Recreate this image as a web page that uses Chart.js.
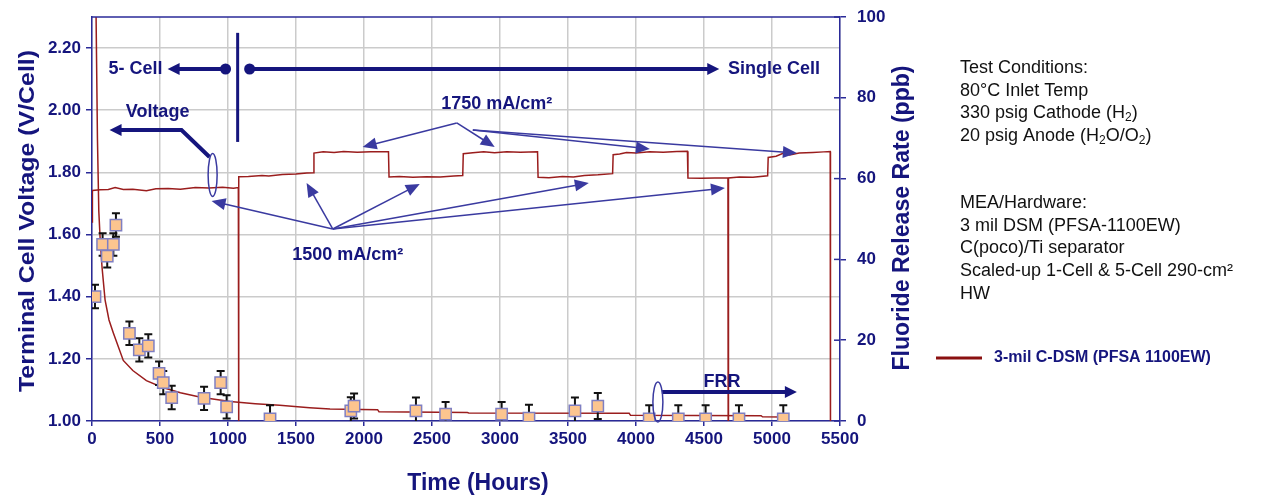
<!DOCTYPE html>
<html>
<head>
<meta charset="utf-8">
<script src="https://cdn.jsdelivr.net/npm/chart.js"></script>
<style>
  html, body { margin: 0; padding: 0; background: #fff; }
  #wrap { width: 1265px; height: 496px; position: relative; }
</style>
</head>
<body>
<div id="wrap"><canvas id="chart"></canvas></div>
<script>
// tick labels
var hourTicks = [0, 500, 1000, 1500, 2000, 2500, 3000, 3500, 4000, 4500, 5000, 5500];
var voltTicks = [1.0, 1.2, 1.4, 1.6, 1.8, 2.0, 2.2];
var ppbTicks = [0, 20, 40, 60, 80, 100];

// cell voltage trace (V/Cell), drops below axis at shutdowns
var voltHours = [0, 3, 60, 120, 170, 230, 300, 400, 470, 560, 650, 760, 860, 960, 1040, 1076, 1078, 1080,
  1150, 1250, 1300, 1400, 1500, 1580, 1628, 1632, 1700, 1780, 1850, 1950, 2050, 2180, 2184,
  2260, 2360, 2460, 2560, 2660, 2726, 2730, 2800, 2880, 2960, 3050, 3150, 3276, 3280,
  3360, 3460, 3540, 3620, 3720, 3828, 3832, 3880, 3930, 4000, 4100, 4200, 4300, 4378, 4382,
  4480, 4580, 4676, 4678, 4680, 4760, 4860, 4968, 4972, 5030, 5090, 5130, 5200, 5300, 5380, 5428, 5430];
var voltValues = [1.64, 1.742, 1.744, 1.745, 1.751, 1.745, 1.746, 1.741, 1.747, 1.748, 1.746, 1.751, 1.750, 1.752, 1.749, 1.751, 0.9, 1.786,
  1.787, 1.790, 1.788, 1.793, 1.795, 1.798, 1.799, 1.862, 1.866, 1.864, 1.867, 1.865, 1.866, 1.866, 1.785,
  1.787, 1.784, 1.786, 1.785, 1.788, 1.790, 1.860, 1.863, 1.866, 1.863, 1.866, 1.865, 1.866, 1.784,
  1.783, 1.787, 1.785, 1.790, 1.792, 1.796, 1.857, 1.859, 1.864, 1.862, 1.866, 1.865, 1.867, 1.868, 1.782,
  1.781, 1.782, 1.782, 0.9, 1.782, 1.785, 1.784, 1.789, 1.848, 1.852, 1.863, 1.856, 1.862, 1.864, 1.866, 1.867, 0.9];

// fluoride release trend line (ppb)
var fitHours = [20, 30, 40, 50, 60, 74, 96, 125, 157, 230, 300, 400, 520, 650, 800, 1015, 1200, 1380, 1600, 1750,
  2100, 2110, 2760, 2770, 3950, 3960, 4920, 4930, 5080];
var fitPpb = [130, 100, 70, 52, 45, 38, 30, 25, 21.8, 15, 12.5, 10, 8.3, 7, 5.9, 4.8, 4.3, 3.9, 3.3, 3.0,
  2.8, 2.3, 2.1, 2.0, 1.9, 1.4, 1.3, 1.05, 1.0];

// measured FRR points (ppb) and error bar half-heights
var frrHours = [22, 78, 112, 157, 176, 275, 348, 414, 493, 524, 586, 824, 946, 990, 1309,
  1903, 1927, 2382, 2600, 3012, 3213, 3551, 3719, 4097, 4311, 4512, 4757, 5083];
var frrPpb = [30.8, 43.7, 40.8, 43.7, 48.5, 21.7, 17.6, 18.6, 11.8, 9.5, 5.8, 5.6, 9.5, 3.5, 0.5,
  2.5, 3.7, 2.5, 1.7, 1.7, 0.7, 2.5, 3.7, 0.5, 0.5, 0.5, 0.5, 0.5];
var frrErr = [2.9, 2.8, 2.8, 2.8, 2.9, 2.9, 2.9, 2.9, 2.9, 2.9, 2.9, 2.9, 2.9, 2.9, 3.4,
  3.4, 3.1, 3.3, 3.0, 3.0, 3.3, 3.3, 3.2, 3.4, 3.4, 3.4, 3.4, 3.4];

var navy = '#15157d';
var axisBlue = '#2a2a98';
var thinBlue = '#3a3aa0';
var lineRed = '#9a1d1d';
var gridGrey = '#cbcbcb';

Chart.defaults.font.family = '"Liberation Sans", Arial, sans-serif';

function toPoints(xs, ys) {
  return xs.map(function(x, i) { return { x: x, y: ys[i] }; });
}

function arrow(ctx, pts, lw, len, half, color) {
  var n = pts.length, tip = pts[n - 1], prev = pts[n - 2];
  var ang = Math.atan2(tip[1] - prev[1], tip[0] - prev[0]);
  var c = Math.cos(ang), s = Math.sin(ang);
  ctx.strokeStyle = color; ctx.fillStyle = color; ctx.lineWidth = lw; ctx.lineJoin = 'miter';
  ctx.beginPath();
  ctx.moveTo(pts[0][0], pts[0][1]);
  for (var i = 1; i < n - 1; i++) ctx.lineTo(pts[i][0], pts[i][1]);
  ctx.lineTo(tip[0] - c * len * 0.8, tip[1] - s * len * 0.8);
  ctx.stroke();
  ctx.beginPath();
  ctx.moveTo(tip[0], tip[1]);
  ctx.lineTo(tip[0] - c * len + s * half, tip[1] - s * len - c * half);
  ctx.lineTo(tip[0] - c * len - s * half, tip[1] - s * len + c * half);
  ctx.closePath();
  ctx.fill();
}

function fitText(ctx, txt, x, y, rot, font, len) {
  ctx.save();
  ctx.translate(x, y);
  ctx.rotate(rot);
  ctx.font = font;
  var w = ctx.measureText(txt).width;
  if (len) ctx.scale(len / w, 1);
  ctx.textAlign = 'center';
  ctx.textBaseline = 'middle';
  ctx.fillText(txt, 0, 0);
  ctx.restore();
}

// text with {sub} parts
function subText(ctx, txt, x, y) {
  var parts = txt.split(/(\{[^}]*\})/);
  parts.forEach(function(p) {
    if (!p) return;
    if (p.charAt(0) === '{') {
      ctx.font = '12px "Liberation Sans", Arial';
      var t = p.slice(1, -1);
      ctx.fillText(t, x, y + 5);
      x += ctx.measureText(t).width;
    } else {
      ctx.font = '18px "Liberation Sans", Arial';
      ctx.fillText(p, x, y);
      x += ctx.measureText(p).width;
    }
  });
}

var decor = {
  id: 'decor',
  beforeDatasetDraw: function(chart, args) {
    // error bars under the FRR squares
    if (args.index !== 0) return;
    var ctx = chart.ctx, a = chart.chartArea;
    var xs = chart.scales.x, ys = chart.scales.y2;
    ctx.save();
    ctx.beginPath(); ctx.rect(a.left, a.top, a.right - a.left, a.bottom - a.top); ctx.clip();
    ctx.strokeStyle = '#111'; ctx.lineWidth = 2;
    for (var i = 0; i < frrHours.length; i++) {
      var px = xs.getPixelForValue(frrHours[i]);
      var top = ys.getPixelForValue(frrPpb[i] + frrErr[i]);
      var bot = ys.getPixelForValue(frrPpb[i] - frrErr[i]);
      ctx.beginPath();
      ctx.moveTo(px, top); ctx.lineTo(px, bot);
      ctx.moveTo(px - 4, top); ctx.lineTo(px + 4, top);
      ctx.moveTo(px - 4, bot); ctx.lineTo(px + 4, bot);
      ctx.stroke();
    }
    ctx.restore();
  },
  afterDraw: function(chart) {
    var ctx = chart.ctx, a = chart.chartArea, xs = chart.scales.x, yv = chart.scales.y, y2 = chart.scales.y2;
    function P(h, v) { return [xs.getPixelForValue(h), yv.getPixelForValue(v)]; }
    ctx.save();

    // top frame and inner ticks of right axis
    ctx.strokeStyle = axisBlue; ctx.lineWidth = 1.5;
    ctx.beginPath(); ctx.moveTo(a.left, a.top); ctx.lineTo(a.right, a.top); ctx.stroke();
    y2.ticks.forEach(function(t) {
      var yy = y2.getPixelForValue(t.value);
      ctx.beginPath(); ctx.moveTo(a.right - 6, yy); ctx.lineTo(a.right, yy); ctx.stroke();
    });

    // 5-cell / single cell divider
    var d1 = P(1071, 2.249), d2 = P(1071, 1.898);
    ctx.strokeStyle = navy; ctx.lineWidth = 3;
    ctx.beginPath(); ctx.moveTo(d1[0], d1[1]); ctx.lineTo(d2[0], d2[1]); ctx.stroke();
    arrow(ctx, [P(982, 2.1327), P(556, 2.1327)], 4, 12, 6, navy);
    arrow(ctx, [P(1159, 2.1327), P(4612, 2.1327)], 4, 12, 6, navy);
    ctx.fillStyle = navy;
    [P(982, 2.1327), P(1159, 2.1327)].forEach(function(p) {
      ctx.beginPath(); ctx.arc(p[0], p[1], 5.5, 0, Math.PI * 2); ctx.fill();
    });

    ctx.font = 'bold 18px "Liberation Sans", Arial';
    ctx.textBaseline = 'middle';
    var p = P(519, 2.1327);
    ctx.textAlign = 'right'; ctx.fillText('5- Cell', p[0], p[1]);
    p = P(4676, 2.1327);
    ctx.textAlign = 'left'; ctx.fillText('Single Cell', p[0], p[1]);
    ctx.textAlign = 'center';
    p = P(482, 1.9944); ctx.fillText('Voltage', p[0], p[1]);
    p = P(2976, 2.0201); ctx.fillText('1750 mA/cm²', p[0], p[1]);
    p = P(1880, 1.5342); ctx.fillText('1500 mA/cm²', p[0], p[1]);
    p = P(4632, 1.1255); ctx.fillText('FRR', p[0], p[1]);

    // voltage arrow and ellipses
    arrow(ctx, [P(864, 1.8496), P(658, 1.9364), P(129, 1.9364)], 4, 12, 6, navy);
    arrow(ctx, [P(4190, 1.0933), P(5183, 1.0933)], 4, 12, 6, navy);
    ctx.strokeStyle = thinBlue; ctx.lineWidth = 1.5;
    [[P(887, 1.7916), 4.5, 21.5], [P(4161, 1.0611), 5, 20]].forEach(function(e) {
      ctx.beginPath(); ctx.ellipse(e[0][0], e[0][1], e[1], e[2], 0, 0, Math.PI * 2); ctx.stroke();
    });

    // current density callouts
    var s1750a = P(2682, 1.959), s1750b = P(2800, 1.9364);
    arrow(ctx, [s1750a, P(1990, 1.8817)], 1.5, 14, 6, thinBlue);
    arrow(ctx, [s1750a, P(2961, 1.8817)], 1.5, 14, 6, thinBlue);
    arrow(ctx, [s1750b, P(4102, 1.8753)], 1.5, 14, 6, thinBlue);
    arrow(ctx, [s1750b, P(5183, 1.8624)], 1.5, 14, 6, thinBlue);
    var s1500 = P(1770, 1.6179);
    [P(879, 1.708), P(1578, 1.7659), P(2410, 1.7627), P(3653, 1.7659), P(4654, 1.7498)].forEach(function(t) {
      arrow(ctx, [s1500, t], 1.5, 14, 6, thinBlue);
    });

    // axis titles
    ctx.fillStyle = navy;
    fitText(ctx, 'Terminal Cell Voltage (V/Cell)', 28, 221, -Math.PI / 2, 'bold 22px "Liberation Sans", Arial', 342);
    fitText(ctx, 'Fluoride Release Rate (ppb)', 903, 218, -Math.PI / 2, 'bold 23px "Liberation Sans", Arial', 305);
    fitText(ctx, 'Time (Hours)', 478, 484, 0, 'bold 23px "Liberation Sans", Arial', 0);

    // test conditions block
    ctx.fillStyle = '#111'; ctx.textAlign = 'left'; ctx.textBaseline = 'middle';
    [['Test Conditions:', 68], ['80°C Inlet Temp', 91], ['330 psig Cathode (H{2})', 113],
     ['20 psig Anode (H{2}O/O{2})', 136], ['MEA/Hardware:', 203], ['3 mil DSM (PFSA-1100EW)', 226],
     ['C(poco)/Ti separator', 248], ['Scaled-up 1-Cell & 5-Cell 290-cm²', 271], ['HW', 294]].forEach(function(l) {
      subText(ctx, l[0], 960, l[1]);
    });

    // legend
    ctx.strokeStyle = '#8a1010'; ctx.lineWidth = 3;
    ctx.beginPath(); ctx.moveTo(936, 358); ctx.lineTo(982, 358); ctx.stroke();
    ctx.fillStyle = navy; ctx.font = 'bold 16px "Liberation Sans", Arial';
    ctx.fillText('3-mil C-DSM (PFSA 1100EW)', 994, 358);
    ctx.restore();
  }
};

var tickFont = { size: 17, weight: 'bold' };

new Chart(document.getElementById('chart'), {
  type: 'scatter',
  data: {
    datasets: [
      {
        label: 'FRR',
        data: toPoints(frrHours, frrPpb),
        yAxisID: 'y2',
        pointStyle: 'rect',
        pointRadius: 8,
        backgroundColor: '#fcc58f',
        borderColor: '#7f7fc2',
        borderWidth: 1.5
      },
      {
        label: '3-mil C-DSM (PFSA 1100EW)',
        data: toPoints(voltHours, voltValues),
        yAxisID: 'y',
        showLine: true,
        pointRadius: 0,
        borderColor: lineRed,
        borderWidth: 1.5
      },
      {
        label: 'FRR trend',
        data: toPoints(fitHours, fitPpb),
        yAxisID: 'y2',
        showLine: true,
        pointRadius: 0,
        borderColor: lineRed,
        borderWidth: 1.5
      }
    ]
  },
  options: {
    responsive: true,
    maintainAspectRatio: false,
    animation: false,
    devicePixelRatio: 1,
    events: [],
    layout: { padding: { top: 17, left: 0, right: 350, bottom: 0 } },
    plugins: { legend: { display: false }, tooltip: { enabled: false } },
    scales: {
      x: {
        type: 'linear', min: 0, max: 5500,
        afterBuildTicks: function(s) { s.ticks = hourTicks.map(function(v) { return { value: v }; }); },
        afterFit: function(s) { s.height = 75; },
        grid: { color: gridGrey, lineWidth: 1.5, tickColor: axisBlue, tickLength: 5 },
        border: { color: axisBlue, width: 1.5 },
        ticks: { color: navy, font: tickFont, padding: 3, maxRotation: 0, autoSkip: false,
          callback: function(v) { return String(v); } }
      },
      y: {
        position: 'left', min: 1.0, max: 2.3,
        afterBuildTicks: function(s) { s.ticks = voltTicks.map(function(v) { return { value: v }; }); },
        afterFit: function(s) { s.width = 92; s.paddingTop = 0; s.paddingBottom = 0; },
        grid: { color: gridGrey, lineWidth: 1.5, tickColor: axisBlue, tickLength: 6 },
        border: { color: axisBlue, width: 1.5 },
        ticks: { color: navy, font: tickFont, padding: 5, callback: function(v) { return v.toFixed(2); } }
      },
      y2: {
        position: 'right', min: 0, max: 100,
        afterBuildTicks: function(s) { s.ticks = ppbTicks.map(function(v) { return { value: v }; }); },
        afterFit: function(s) { s.width = 75; s.paddingTop = 0; s.paddingBottom = 0; },
        grid: { drawOnChartArea: false, color: axisBlue, lineWidth: 1.5, tickLength: 6 },
        border: { color: axisBlue, width: 1.5 },
        ticks: { color: navy, font: tickFont, padding: 11 }
      }
    }
  },
  plugins: [decor]
});
</script>
</body>
</html>
